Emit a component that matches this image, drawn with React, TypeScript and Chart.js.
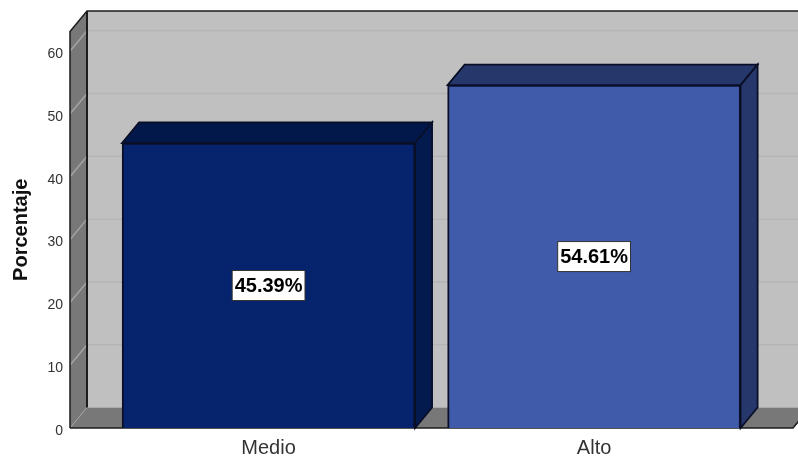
import React, { useEffect, useRef } from "react";
import { Chart, registerables } from "chart.js";

Chart.register(...registerables);

const categories = ["Medio", "Alto"];
const percentages = [45.39, 54.61];
const valueLabels = ["45.39%", "54.61%"];
const frontColors = ["#06246d", "#3f5ba9"];
const topColors = ["#03184a", "#26376c"];
const sideColors = ["#031a4e", "#26376c"];

const DEPTH_X = 17;
const DEPTH_Y = 20.5;
const EDGE = "#1c1c1c";
const BAR_EDGE = "#0a0f28";

function poly(ctx: CanvasRenderingContext2D, pts: number[][], fill: string | null, stroke: string | null, lw = 1) {
  ctx.beginPath();
  pts.forEach(([x, y], i) => (i ? ctx.lineTo(x, y) : ctx.moveTo(x, y)));
  ctx.closePath();
  if (fill) {
    ctx.fillStyle = fill;
    ctx.fill();
  }
  if (stroke) {
    ctx.strokeStyle = stroke;
    ctx.lineWidth = lw;
    ctx.stroke();
  }
}

// Back wall, side wall, floor and grid of the 3D box
const roomPlugin = {
  id: "room",
  beforeDatasetsDraw(chart: any) {
    const { ctx, chartArea: a, scales } = chart;
    const { left: l, right: r, top: t, bottom: b } = a;
    const dx = DEPTH_X;
    const dy = DEPTH_Y;
    ctx.save();
    ctx.fillStyle = "#c0c0c0";
    ctx.fillRect(l + dx, t - dy, r - l, b - t);
    poly(ctx, [[l, t], [l + dx, t - dy], [l + dx, b - dy], [l, b]], "#787878", null);
    poly(ctx, [[l, b], [l + dx, b - dy], [r + dx, b - dy], [r, b]], "#787878", null);

    scales.y.ticks.forEach((tick: any) => {
      if (tick.value === 0) return;
      const y = scales.y.getPixelForValue(tick.value);
      ctx.lineWidth = 1.5;
      ctx.strokeStyle = "#a4a4a4";
      ctx.beginPath();
      ctx.moveTo(l, y);
      ctx.lineTo(l + dx, y - dy);
      ctx.stroke();
      ctx.strokeStyle = "#b5b5b5";
      ctx.beginPath();
      ctx.moveTo(l + dx, y - dy);
      ctx.lineTo(r + dx, y - dy);
      ctx.stroke();
    });
    ctx.strokeStyle = "#a0a0a0";
    ctx.lineWidth = 1;
    ctx.beginPath();
    ctx.moveTo(l, b);
    ctx.lineTo(l + dx, b - dy);
    ctx.stroke();

    ctx.strokeStyle = EDGE;
    ctx.lineWidth = 1.5;
    ctx.beginPath();
    ctx.moveTo(l, b);
    ctx.lineTo(l, t);
    ctx.lineTo(l + dx, t - dy);
    ctx.lineTo(r + dx, t - dy);
    ctx.stroke();
    ctx.lineWidth = 2;
    ctx.beginPath();
    ctx.moveTo(l + dx, t - dy);
    ctx.lineTo(l + dx, b - dy);
    ctx.stroke();

    ctx.lineWidth = 1.5;
    ctx.beginPath();
    ctx.moveTo(l, b);
    ctx.lineTo(r, b);
    ctx.lineTo(r + dx, b - dy);
    ctx.stroke();
    ctx.restore();
  },
  // Top and side faces of each bar, then the value boxes
  afterDatasetsDraw(chart: any) {
    const { ctx } = chart;
    const dx = DEPTH_X;
    const dy = DEPTH_Y;
    const meta = chart.getDatasetMeta(0);
    ctx.save();
    meta.data.forEach((bar: any, i: number) => {
      const l = bar.x - bar.width / 2;
      const r = bar.x + bar.width / 2;
      const t = bar.y;
      const b = bar.base;
      poly(ctx, [[l, t], [l + dx, t - dy], [r + dx, t - dy], [r, t]], topColors[i], BAR_EDGE, 1.8);
      poly(ctx, [[r, t], [r + dx, t - dy], [r + dx, b - dy], [r, b]], sideColors[i], BAR_EDGE, 1.8);
    });
    ctx.font = "bold 20px 'Liberation Sans'";
    ctx.textAlign = "center";
    ctx.textBaseline = "middle";
    meta.data.forEach((bar: any, i: number) => {
      const cy = (bar.y + bar.base) / 2;
      const w = ctx.measureText(valueLabels[i]).width + 5;
      const h = 30;
      ctx.fillStyle = "#ffffff";
      ctx.fillRect(bar.x - w / 2, cy - h / 2, w, h);
      ctx.strokeStyle = "#333333";
      ctx.lineWidth = 1;
      ctx.strokeRect(bar.x - w / 2, cy - h / 2, w, h);
      ctx.fillStyle = "#000000";
      ctx.fillText(valueLabels[i], bar.x, cy + 1);
    });
    ctx.restore();
  },
};

export default function App() {
  const ref = useRef<HTMLCanvasElement>(null);

  useEffect(() => {
    const chart = new Chart(ref.current!, {
      type: "bar",
      data: {
        datasets: [
          {
            data: percentages.map((y, x) => ({ x, y })),
            backgroundColor: frontColors,
            borderColor: BAR_EDGE,
            borderWidth: 2,
            barThickness: 293,
          },
        ],
      },
      plugins: [roomPlugin],
      options: {
        responsive: false,
        animation: false,
        layout: { padding: { top: 31.5, right: 5, left: 0, bottom: 0 } },
        plugins: { legend: { display: false }, tooltip: { enabled: false } },
        scales: {
          x: {
            type: "linear",
            offset: false,
            min: -0.61,
            max: 1.611,
            grid: { display: false, drawTicks: false },
            border: { display: false },
            afterBuildTicks(scale: any) {
              scale.ticks = categories.map((_, value) => ({ value }));
            },
            afterFit(scale: any) {
              scale.height = 29;
            },
            ticks: {
              autoSkip: false,
              maxRotation: 0,
              padding: 8,
              color: "#333333",
              font: { family: "'Liberation Sans'", size: 20 },
              callback: (v: any) => categories[v] ?? "",
            },
          },
          y: {
            min: 0,
            max: 63.15,
            grid: { display: false, drawTicks: false },
            border: { display: false },
            afterBuildTicks(scale: any) {
              scale.ticks = [0, 10, 20, 30, 40, 50, 60].map((value) => ({ value }));
            },
            afterFit(scale: any) {
              scale.width = 70;
            },
            title: {
              display: true,
              text: "Porcentaje",
              color: "#111111",
              font: { family: "'Liberation Sans'", size: 20, weight: "bold" },
              padding: { top: 9, bottom: 0 },
            },
            ticks: {
              padding: 7,
              labelOffset: 3,
              color: "#333333",
              font: { family: "'Liberation Sans'", size: 14 },
            },
          },
        },
      },
    } as any);
    return () => chart.destroy();
  }, []);

  return (
    <div style={{ position: "absolute", left: 0, top: 0, width: 798, height: 457 }}>
      <canvas ref={ref} width={798} height={457} style={{ display: "block" }} />
    </div>
  );
}
